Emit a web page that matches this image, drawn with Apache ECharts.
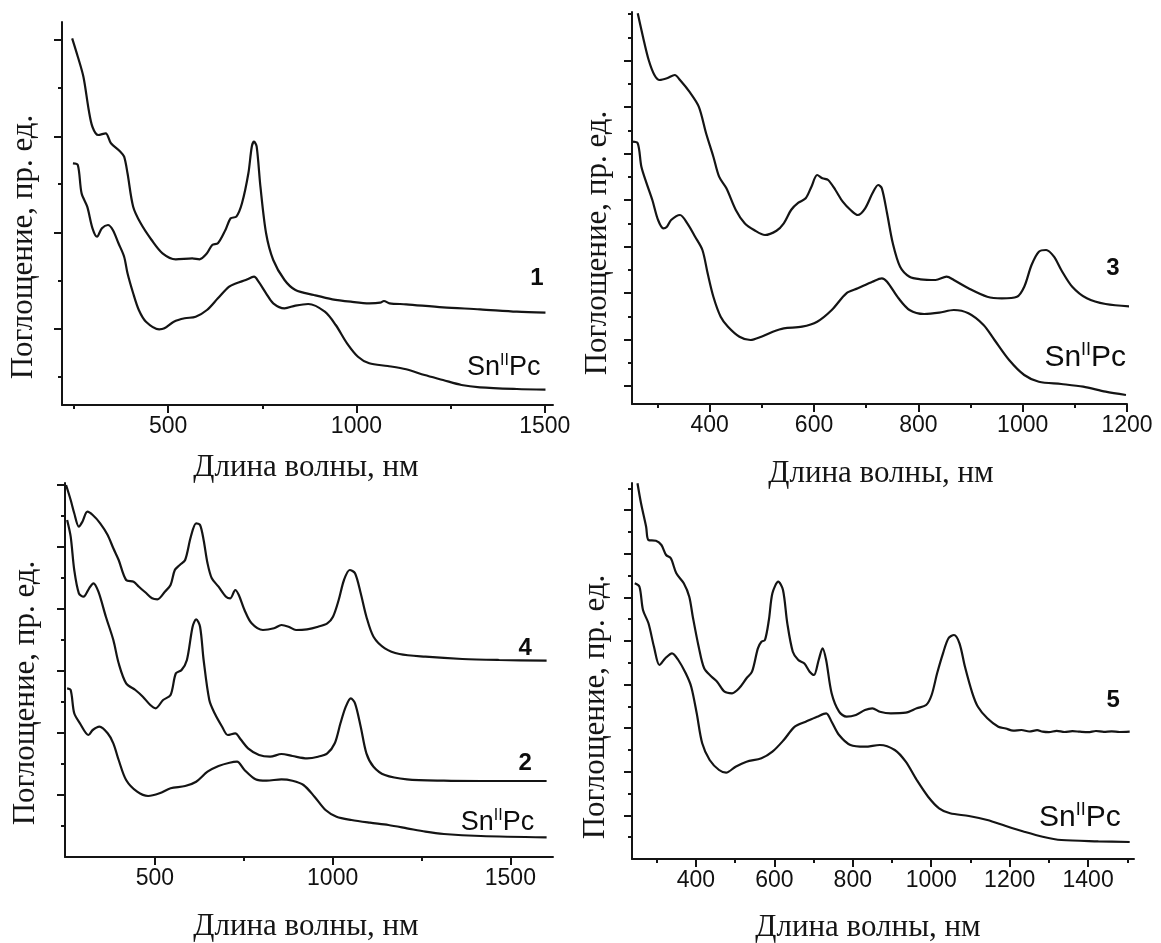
<!DOCTYPE html>
<html>
<head>
<meta charset="utf-8">
<script src="https://cdn.jsdelivr.net/npm/echarts@6/dist/echarts.min.js"></script>
<style>html,body{margin:0;padding:0;background:#fff}#c{width:1161px;height:943px}</style>
</head>
<body>
<div id="c"></div>
<script>
// ---------- DATA (wavelength, nm ; absorbance, arbitrary units) ----------
// Panel 1 (top-left)
const p1_c1_nm  = [245,260,275,289,299,314,334,348,373,383,392,407,427,456,485,520,564,583,603,617,632,652,666,681,696,713,722,728,735,745,760,779,809,838,887,936,985,1034,1063,1073,1088,1132,1230,1328,1426,1502];
const p1_c1_abs = [366.7,348.3,328,295,278,270,271.7,261.7,253.3,248.3,231.7,198.3,181.7,165,151.7,145.7,146.7,145.7,151.7,160,161.7,175,186.7,188.3,201.7,231.7,258.3,263.3,258.3,218.3,171.7,145,125,115,110,105.7,103.3,101.7,102.3,104,101.7,100.7,97.7,95.7,93.3,92.3];
const p1_sn_nm  = [247,260,270,285,299,311,324,340,353,368,383,392,407,422,441,476,490,515,544,573,603,632,662,681,706,728,740,760,779,809,838,872,916,945,975,1004,1034,1083,1132,1181,1230,1279,1328,1426,1502];
const p1_sn_abs = [241.7,240,211.7,198.3,176.7,168.3,176.7,180,175,161.7,148.3,131.7,111.7,95,83.3,75.7,76.7,83.3,86.7,88.3,95,106.7,118.3,121.7,125,128.3,123.3,111.7,101.7,96.7,99.4,101,93.3,80,61.7,48.3,41.7,39,35.7,30,25,20,17.7,16,15.3];

// Panel 3 (top-right)
const p3_c3_nm  = [262,272,283,294,304,318,333,343,361,379,393,407,418,432,450,467,485,506,528,542,556,570,584,595,606,616,627,641,655,670,684,698,712,723,730,740,751,765,783,804,833,854,868,896,932,960,989,1003,1017,1031,1045,1060,1074,1095,1123,1159,1216];
const p3_c3_abs = [390.7,367.3,344,329,324,325.7,329,324,312.3,297.3,270.7,247.3,227.3,215.7,194,180.7,174,169,173.3,180.7,194,201.3,205.7,217.3,229,225.7,224,214,202.3,194,189,195.7,210.7,219,215.7,190.7,160.7,137.3,127.3,124.7,124,127.3,124,115.7,107.3,105.7,107.3,117.3,139,152.3,154,147.3,134,117.3,105.7,100,97.3];
const p3_sn_nm  = [251,262,269,279,290,301,311,318,326,343,357,372,386,396,407,421,435,457,478,499,521,542,577,606,634,662,684,712,730,740,762,783,811,840,868,896,925,946,974,1003,1031,1074,1116,1159,1198];
const p3_sn_abs = [262.3,260.7,237.3,220.7,204,184,175.7,177.3,184,189,180.7,167.3,154,130.7,107.3,87.3,77.3,67.3,64,67.3,72.3,75.7,77.3,82.3,94,110.7,115.7,122.3,125.7,122.3,105.7,94,90,91.3,94,90.7,79,64,44,29,22.3,20,17.3,12.3,9];

// Panel 2 (bottom-left)
const p2_c4_nm  = [250,263,273,286,296,310,325,346,367,383,398,419,440,455,476,492,507,528,544,556,570,585,601,616,627,637,648,660,679,700,712,726,736,752,772,804,835,856,876,897,928,959,985,1001,1017,1032,1048,1063,1079,1095,1115,1147,1188,1261,1365,1469,1602];
const p2_c4_abs = [372,357,343.7,330.3,335.3,345.3,342,333.7,322,308.7,297,277,275.3,270.3,263.7,258.7,257.7,265.3,272,287,292,297,320.3,333.7,332,317,293.7,278.7,270.3,260.3,258.7,267,262,247,233.7,227,228.7,232,230.3,227,227.7,230.3,233.7,240.3,257,277,287,283.7,263.7,240.3,220.3,208.7,203,200.3,198,197,196.3];
const p2_c2_nm  = [253,263,273,286,299,315,327,341,362,383,398,419,445,466,487,502,523,544,559,575,590,606,616,627,637,653,668,689,705,726,741,762,793,824,856,887,928,959,985,1006,1022,1037,1051,1063,1079,1095,1115,1147,1209,1313,1417,1602];
const p2_c2_abs = [337,320.3,287,263.7,260.3,268.7,273.7,265.3,240.3,217,193.7,173.7,167,160.3,152,148.7,157,162,183.7,187,197,230.3,237.7,230.3,197,157,143.7,130.3,122,123.7,117.7,108.7,102,100.3,103,101,98.7,100.3,103.7,113.7,133.7,150.3,158.7,153.7,130.3,103.7,90.3,82,77.7,76.3,76,76];
const p2_sn_nm  = [253,263,273,289,313,325,344,367,383,398,419,450,481,513,544,585,616,648,679,710,731,752,783,814,856,887,918,949,980,1011,1053,1105,1157,1209,1261,1313,1417,1602];
const p2_sn_abs = [168.7,167,143.7,133.7,122,127,130.3,123.7,113.7,97,77,65.3,61,63.7,68.7,71,75.3,85.3,91,94.3,95.3,87,77.7,76.3,77.7,76.3,72,60.3,47,40.3,37,34.3,32,28.7,25.3,23,21,19.7];

// Panel 5 (bottom-right)
const p5_c5_nm  = [251,260,273,279,298,312,324,336,350,369,383,392,407,421,440,454,473,492,510,529,543,558,567,576,586,595,610,622,633,647,661,676,690,701,713,723,732,746,765,784,808,831,850,869,897,935,963,987,1001,1015,1030,1044,1058,1072,1086,1105,1119,1143,1171,1190,1209,1230,1250,1270,1284,1300,1320,1340,1360,1379,1400,1420,1440,1460,1480,1506];
const p5_c5_abs = [375.7,355.7,332.3,319,318.3,314,304,300.7,285.7,275.7,262.3,242.3,212.3,190.7,182.3,177.3,167.3,165.7,170.7,180.7,187.3,210.7,217.3,219,239,265.7,277.3,269,235.7,207.3,199,195.7,187.3,184,199,210.7,199,165.7,147.3,142.3,144,149,150.7,147.3,145.7,146.3,150.7,154,164,185.7,205.7,220.7,224,215.7,192.3,165.7,152.3,140.7,132.3,130.5,128.3,129,127.5,128.8,127.3,126.8,128.2,127,127.8,127.3,126.9,128,127.2,127.6,127,127.3];
const p5_sn_nm  = [244,256,265,279,293,307,322,339,355,374,388,402,416,435,459,477,501,529,567,595,624,652,680,709,732,746,765,794,831,869,907,935,963,992,1020,1048,1096,1143,1190,1237,1284,1332,1426,1506];
const p5_sn_abs = [275.7,272.3,249,235.7,212.3,194,200.7,205.7,199,185.7,172.3,145.7,115.7,99,89,86.3,92.3,97.3,100.7,107.3,119,132.3,137.3,142.3,145.7,137.3,124,114,112.3,114,109,97.3,79,62.3,50.7,45.7,43,39,33,27.3,22.3,19,17.7,17];

// Tick values
const p1_xMajor = [500, 1000, 1500];
const p1_xMinor = [250, 750, 1250];
const p3_xMajor = [400, 600, 800, 1000, 1200];
const p3_xMinor = [300, 500, 700, 900, 1100];
const p2_xMajor = [500, 1000, 1500];
const p2_xMinor = [750, 1250];
const p5_xMajor = [400, 600, 800, 1000, 1200, 1400];
const p5_xMinor = [300, 500, 700, 900, 1100, 1300, 1500];

const p1_yMajor = [76, 172, 268, 365];
const p1_yMinor = [28, 124, 221, 317];
const p3_yMajor = [18, 64.5, 111, 157.5, 204, 250.5, 297, 343.5];
const p3_yMinor = [41.25, 87.75, 134.25, 180.75, 227.25, 273.75, 320.25, 366.75, 390];
const p2_yMajor = [62, 124, 186, 248, 310, 372];
const p2_yMinor = [31, 93, 155, 217, 279, 341];
const p5_yMajor = [43.6, 87.2, 130.8, 174.4, 218, 261.6, 305.2, 348.8];
const p5_yMinor = [21.8, 65.4, 109, 152.6, 196.2, 239.8, 283.4, 327, 370.6];

// Curve labels: [text, wavelength, absorbance]
const p1_labels = [['1', 1479, 127], ['Sn', 1391, 37]];
const p3_labels = [['3', 1173, 136], ['Sn', 1120, 46]];
const p2_labels = [['4', 1542, 209], ['2', 1542, 94], ['Sn', 1464, 34]];
const p5_labels = [['5', 1464, 159], ['Sn', 1379, 41]];

const xTitle = 'Длина волны, нм';
const yTitle = 'Поглощение, пр. ед.';

// ---------- LAYOUT ----------
const grids = [
  {left: 62,  top: 22,  width: 491, height: 383},  // panel 1
  {left: 632, top: 12,  width: 495, height: 392},  // panel 3
  {left: 65,  top: 483, width: 488, height: 374},  // panel 2
  {left: 632, top: 483, width: 502, height: 376}   // panel 5
];
const xRanges = [[218, 1522], [251, 1200], [247, 1620], [237, 1517]];
const yMax = [383, 392, 374, 376];
const xTicks = [[p1_xMajor, p1_xMinor], [p3_xMajor, p3_xMinor], [p2_xMajor, p2_xMinor], [p5_xMajor, p5_xMinor]];
const yTicks = [[p1_yMajor, p1_yMinor], [p3_yMajor, p3_yMinor], [p2_yMajor, p2_yMinor], [p5_yMajor, p5_yMinor]];
const curves = [
  [[p1_c1_nm, p1_c1_abs], [p1_sn_nm, p1_sn_abs]],
  [[p3_c3_nm, p3_c3_abs], [p3_sn_nm, p3_sn_abs]],
  [[p2_c4_nm, p2_c4_abs], [p2_c2_nm, p2_c2_abs], [p2_sn_nm, p2_sn_abs]],
  [[p5_c5_nm, p5_c5_abs], [p5_sn_nm, p5_sn_abs]]
];
const labels = [p1_labels, p3_labels, p2_labels, p5_labels];
const snSize = [27, 30, 27, 30];

const INK = '#141414';
const zip = (a, b) => a.map((v, i) => [v, b[i]]);

const xAxis = [], yAxis = [], series = [];
grids.forEach((g, i) => {
  const [mn, mx] = xRanges[i];
  xAxis.push({
    type: 'value', gridIndex: i, min: mn, max: mx, position: 'bottom',
    axisLine: {show: true, onZero: false, lineStyle: {color: INK, width: 2}},
    axisTick: {show: true, inside: false, length: 8, customValues: xTicks[i][0], lineStyle: {color: INK, width: 2}},
    axisLabel: {show: true, customValues: xTicks[i][0], formatter: v => String(v), margin: 10, fontSize: 23, fontFamily: 'Liberation Sans', color: '#111'},
    splitLine: {show: false}
  });
  xAxis.push({
    type: 'value', gridIndex: i, min: mn, max: mx, position: 'bottom',
    axisLine: {show: false, onZero: false},
    axisTick: {show: true, inside: false, length: 4, customValues: xTicks[i][1], lineStyle: {color: INK, width: 2}},
    axisLabel: {show: false}, splitLine: {show: false}
  });
  yAxis.push({
    type: 'value', gridIndex: i, min: 0, max: yMax[i], position: 'left',
    axisLine: {show: true, onZero: false, lineStyle: {color: INK, width: 2}},
    axisTick: {show: true, inside: false, length: 8, customValues: yTicks[i][0], lineStyle: {color: INK, width: 2}},
    axisLabel: {show: false}, splitLine: {show: false}
  });
  yAxis.push({
    type: 'value', gridIndex: i, min: 0, max: yMax[i], position: 'left',
    axisLine: {show: false, onZero: false},
    axisTick: {show: true, inside: false, length: 4, customValues: yTicks[i][1], lineStyle: {color: INK, width: 2}},
    axisLabel: {show: false}, splitLine: {show: false}
  });
  curves[i].forEach(c => {
    series.push({
      type: 'line', xAxisIndex: 2 * i, yAxisIndex: 2 * i,
      data: zip(c[0], c[1]), showSymbol: false, smooth: 0.3, clip: false,
      lineStyle: {color: INK, width: 2.2}, silent: true
    });
  });
  labels[i].forEach(l => {
    const isSn = l[0] === 'Sn';
    const s = snSize[i];
    series.push({
      type: 'scatter', xAxisIndex: 2 * i, yAxisIndex: 2 * i, symbolSize: 0, silent: true,
      itemStyle: {opacity: 1},
      data: [[l[1], l[2]]],
      label: isSn ? {
        show: true, position: 'inside', opacity: 1, formatter: '{a|Sn}{b|II}{a|Pc}',
        rich: {
          a: {fontSize: s, fontFamily: 'Liberation Sans', color: '#0d0d0d', lineHeight: s + 4},
          b: {fontSize: Math.round(s * 0.6), fontFamily: 'Liberation Sans', color: '#0d0d0d', verticalAlign: 'top', lineHeight: Math.round(s * 0.6) + 2}
        }
      } : {
        show: true, position: 'inside', opacity: 1, formatter: l[0],
        fontSize: 24, fontWeight: 'bold', fontFamily: 'Liberation Sans', color: '#0d0d0d'
      }
    });
  });
});

// Axis titles (layout positions)
const xTitlePos = [[306, 468], [881, 474], [306, 927], [868, 928]];
const yTitlePos = [[24, 247], [598, 243], [26, 693], [596, 707]];
const graphic = [];
xTitlePos.forEach(p => graphic.push({
  type: 'text', x: p[0], y: p[1], silent: true,
  style: {text: xTitle, font: '31px "Liberation Serif"', fill: '#151515', align: 'center', verticalAlign: 'middle'}
}));
yTitlePos.forEach(p => graphic.push({
  type: 'text', x: p[0], y: p[1], rotation: Math.PI / 2, silent: true,
  style: {text: yTitle, font: '31px "Liberation Serif"', fill: '#151515', align: 'center', verticalAlign: 'middle'}
}));

const chart = echarts.init(document.getElementById('c'), null, {renderer: 'canvas'});
chart.setOption({
  backgroundColor: '#fff',
  animation: false,
  grid: grids,
  xAxis, yAxis, series, graphic
});
</script>
</body>
</html>
